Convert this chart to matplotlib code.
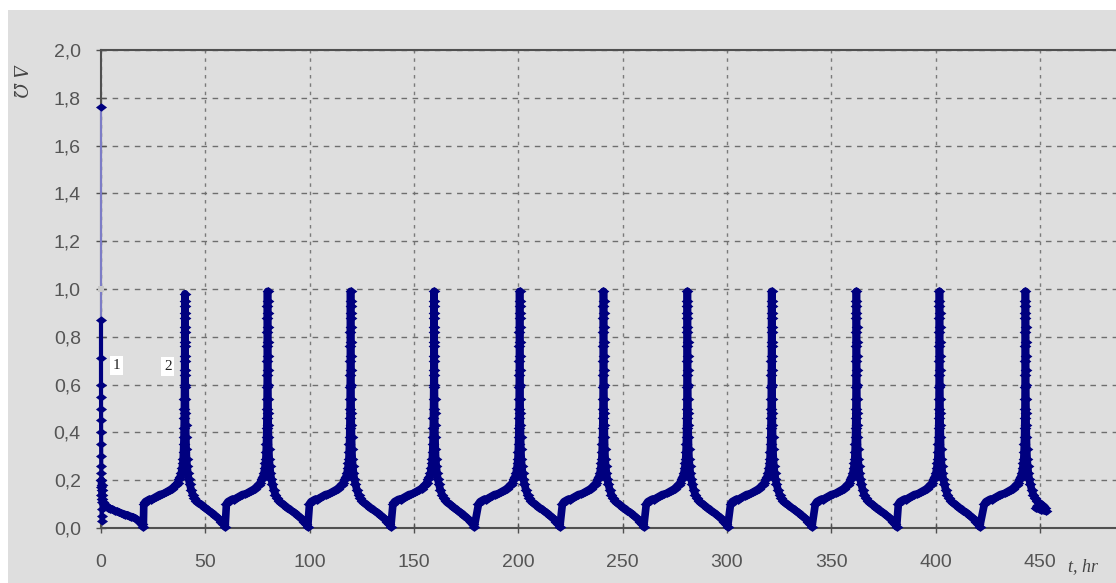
import matplotlib
matplotlib.use("Agg")
import matplotlib.pyplot as plt
from matplotlib.patches import Rectangle

# ---- data ----
# curve 1 : the start spike at t = 0
start_t = [0.0, 0.0, 0.0, 0.0, 0.02, 0.03, 0.05, 0.06, 0.08, 0.1, 0.12, 0.15, 0.17,
           0.2, 0.22, 0.25, 0.28, 0.3, 0.3]
start_v = [1.76, 0.87, 0.71, 0.60, 0.55, 0.50, 0.45, 0.40, 0.35, 0.30, 0.26, 0.23, 0.20,
           0.17, 0.14, 0.11, 0.08, 0.05, 0.03]

# curve 2 : decay after t = 0 down to the first trough
decay_t = [0.2, 0.3, 0.4, 0.5, 0.7, 1.0, 1.4, 2.0, 2.7, 3.5, 4.5, 5.5, 6.5, 7.5, 8.5,
           9.5, 10.5, 11.5, 12.5, 13.5, 14.5, 15.5, 16.5, 17.5, 18.5, 19.5, 20.3]
decay_v = [0.20, 0.18, 0.16, 0.14, 0.12, 0.11, 0.10, 0.095, 0.09, 0.085, 0.08, 0.078,
           0.072, 0.07, 0.066, 0.062, 0.06, 0.056, 0.055, 0.05, 0.048, 0.044, 0.04,
           0.033, 0.025, 0.015, 0.005]

# times of the periodic peaks (hr) and their tops
peak_t = [40.2, 79.8, 119.6, 159.6, 200.6, 240.8, 281.0, 321.4, 362.0, 401.8, 443.0]
peak_top = [0.98, 0.99, 0.99, 0.99, 0.99, 0.99, 0.99, 0.99, 0.99, 0.99, 0.99]

# shape of one peak, offsets from the peak time
rise_dt = [-19.7, -19.0, -18.0, -17.0, -16.0, -15.0, -14.0, -13.0, -12.0, -11.0, -10.0,
           -9.0, -8.0, -7.0, -6.0, -5.0, -4.2, -3.5, -2.8, -2.2, -1.7, -1.3, -1.0, -0.8,
           -0.65, -0.52, -0.42, -0.34, -0.28, -0.23, -0.19, -0.15, -0.12, -0.09, -0.07,
           -0.05, -0.03, -0.015]
rise_v = [0.10, 0.11, 0.115, 0.12, 0.118, 0.125, 0.13, 0.135, 0.14, 0.142, 0.145, 0.15,
          0.155, 0.16, 0.165, 0.175, 0.18, 0.19, 0.205, 0.215, 0.23, 0.25, 0.27, 0.29,
          0.32, 0.35, 0.38, 0.42, 0.46, 0.50, 0.54, 0.59, 0.64, 0.70, 0.76, 0.82, 0.88,
          0.93]
fall_dt = [0.015, 0.03, 0.05, 0.07, 0.1, 0.13, 0.17, 0.22, 0.28, 0.35, 0.45, 0.6, 0.8,
           1.05, 1.4, 1.8, 2.3, 3.0, 3.8, 4.6, 5.5, 6.5, 7.5, 8.5, 9.5, 10.5, 11.5, 12.5,
           13.5, 14.5, 15.5, 16.5, 17.5, 18.5, 19.3]
fall_v = [0.95, 0.90, 0.84, 0.78, 0.72, 0.66, 0.60, 0.54, 0.48, 0.43, 0.38, 0.33, 0.29,
          0.26, 0.23, 0.205, 0.185, 0.16, 0.14, 0.125, 0.115, 0.105, 0.10, 0.092, 0.085,
          0.08, 0.072, 0.066, 0.06, 0.052, 0.045, 0.036, 0.027, 0.016, 0.005]
last_fall_end = 10.0
tail_t = [448.0, 450.5, 453.0]
tail_v = [0.085, 0.075, 0.07]

y_ticks = [0.0, 0.2, 0.4, 0.6, 0.8, 1.0, 1.2, 1.4, 1.6, 1.8, 2.0]
y_labels = ["0,0", "0,2", "0,4", "0,6", "0,8", "1,0", "1,2", "1,4", "1,6", "1,8", "2,0"]
x_ticks = [0, 50, 100, 150, 200, 250, 300, 350, 400, 450]

# ---- build the periodic curve ----
t2 = list(decay_t)
v2 = list(decay_v)
for i, p in enumerate(peak_t):
    for dt, v in zip(rise_dt, rise_v):
        t2.append(p + dt)
        v2.append(v)
    t2.append(p)
    v2.append(peak_top[i])
    last = i == len(peak_t) - 1
    for dt, v in zip(fall_dt, fall_v):
        if last and dt > last_fall_end:
            break
        t2.append(p + dt)
        v2.append(v)
t2 += tail_t
v2 += tail_v

# ---- figure ----
W, H = 1116, 583
fig = plt.figure(figsize=(W / 100, H / 100), dpi=100)
fig.patch.set_facecolor("white")
fig.patches.append(Rectangle((8 / W, 0), 1, 573 / H, transform=fig.transFigure,
                             facecolor="#dedede", edgecolor="none", zorder=-10))

ax = fig.add_axes([101 / W, 55 / H, (W - 101) / W, 478 / H])
ax.set_facecolor("none")
ax.set_xlim(0, 486.4)
ax.set_ylim(0, 2.0)

diamond = [(-1, 0), (0, 0.75), (1, 0), (0, -0.75), (-1, 0)]
navy = "#00007f"

ax.plot(start_t[:2], start_v[:2], color="#7c7cc6", lw=1.5, zorder=3, clip_on=False)
ax.plot(start_t[1:], start_v[1:], color=navy, lw=3, zorder=4, clip_on=False)
ax.plot(start_t, start_v, ls="none", marker=diamond, ms=8, color=navy, mew=0,
        zorder=4, clip_on=False)
ax.plot([0], [1.0], ls="none", marker="s", ms=5, color="#c8c8c8", mew=0, zorder=4,
        clip_on=False)
ax.plot(t2, v2, color=navy, lw=5.5, marker=diamond, ms=8.5, mew=0, zorder=4,
        solid_joinstyle="round", solid_capstyle="round", clip_on=False)

for s in ["left", "bottom", "top"]:
    ax.spines[s].set_color("#505050")
    ax.spines[s].set_linewidth(1.5)
ax.spines["right"].set_visible(False)

ax.set_yticks(y_ticks)
ax.set_yticklabels(y_labels)
ax.set_xticks(x_ticks)
ax.tick_params(axis="both", direction="inout", length=7, width=1, color="#505050",
               labelcolor="#555555", labelsize=14)
ax.tick_params(axis="y", pad=11)
ax.tick_params(axis="x", pad=15)
for lab in ax.get_xticklabels() + ax.get_yticklabels():
    lab.set_fontfamily("Liberation Sans")

ax.grid(axis="y", color="#6e6e6e", lw=1, ls=(0, (4, 4)))
ax.grid(axis="x", color="#7a7a7a", lw=1, ls=(0, (2.5, 3.5)))
ax.set_axisbelow(True)

# axis titles
fig.text(19 / W, 1 - 81 / H, "Δ Ω", rotation=270, ha="center", va="center",
         family="DejaVu Serif", style="italic", fontsize=13, color="#444444")
fig.text(1083 / W, 1 - 567 / H, "t, hr", ha="center", va="center",
         family="Liberation Serif", style="italic", fontsize=13, color="#444444")

# curve numbers
ax.text(7.3, 0.68, "1", ha="center", va="center", family="Liberation Serif",
        fontsize=11, color="#222222", zorder=6,
        bbox=dict(facecolor="white", edgecolor="none", pad=2))
ax.text(32.0, 0.675, "2", ha="center", va="center", family="Liberation Serif",
        fontsize=11, color="#222222", zorder=6,
        bbox=dict(facecolor="white", edgecolor="none", pad=2))

fig.savefig("out.png", dpi=100)
